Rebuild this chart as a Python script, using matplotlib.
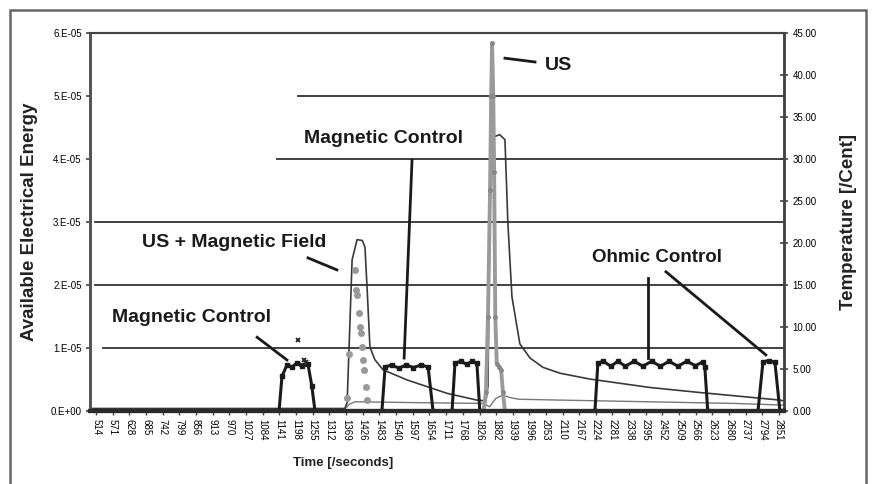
import numpy as np
import matplotlib
matplotlib.use("Agg")
import matplotlib.pyplot as plt
from matplotlib.patches import Rectangle

NARROW = ['Liberation Sans Narrow', 'Liberation Sans', 'DejaVu Sans']
WIDE = ['Liberation Sans', 'DejaVu Sans']

# time axis category labels (seconds)
time_labels = [514, 571, 628, 685, 742, 799, 856, 913, 970, 1027, 1084, 1141,
               1198, 1255, 1312, 1369, 1426, 1483, 1540, 1597, 1654, 1711, 1768,
               1826, 1882, 1939, 1996, 2053, 2110, 2167, 2224, 2281, 2338, 2395,
               2452, 2509, 2566, 2623, 2680, 2737, 2794, 2851]

# available electrical energy (x1E-05), control pulses
energy_t = [493, 1140, 1150, 1167, 1185, 1200, 1220, 1239, 1252, 1263,
            1492, 1503, 1525, 1550, 1575, 1600, 1625, 1650, 1667,
            1732, 1742, 1762, 1782, 1800, 1817, 1827,
            2221, 2231, 2250, 2275, 2300, 2325, 2355, 2385, 2415, 2445, 2475,
            2505, 2535, 2565, 2590, 2597, 2607,
            2779, 2796, 2815, 2837, 2854, 2868]
energy_v = [0, 0, 0.55, 0.73, 0.70, 0.76, 0.71, 0.74, 0.40, 0,
            0, 0.70, 0.73, 0.68, 0.73, 0.69, 0.73, 0.70, 0,
            0, 0.76, 0.79, 0.74, 0.79, 0.76, 0,
            0, 0.76, 0.79, 0.71, 0.79, 0.71, 0.79, 0.71, 0.79, 0.71, 0.79,
            0.71, 0.79, 0.72, 0.78, 0.70, 0,
            0, 0.78, 0.80, 0.77, 0, 0]

# scattered readings during first magnetic control
mag_scatter_t = [1205, 1218, 1224, 1232]
mag_scatter_v = [1.13, 0.73, 0.81, 0.78]

# US + magnetic field readings
usmf_t = [1373, 1378, 1400, 1404, 1408, 1412, 1416, 1420, 1424, 1428, 1432, 1436, 1440]
usmf_v = [0.2, 0.9, 2.24, 1.92, 1.84, 1.56, 1.33, 1.24, 1.02, 0.81, 0.65, 0.38, 0.17]

# US spike
us_t = [493, 1840, 1848, 1855, 1862, 1866, 1869, 1873, 1876, 1880, 1885, 1893, 1900, 1906, 1913, 2868]
us_v = [0, 0, 0.3, 1.5, 3.5, 5.0, 5.84, 5.0, 3.8, 1.5, 0.75, 0.70, 0.65, 0.3, 0, 0]

# temperature (/Cent)
temp_t = [493, 1365, 1373, 1390, 1407, 1425, 1434, 1441, 1451, 1468, 1496, 1578,
          1715, 1817, 1848, 1855, 1863, 1872, 1895, 1913, 1923, 1937, 1964, 1999,
          2043, 2101, 2204, 2409, 2580, 2854, 2868]
temp_v = [0.3, 0.3, 1.0, 18.0, 20.4, 20.3, 19.5, 14.8, 7.6, 6.1, 4.9, 3.7,
          2.1, 1.3, 1.2, 3.0, 28.0, 32.6, 32.9, 32.3, 22.4, 13.6, 8.0, 6.3,
          5.2, 4.5, 3.8, 2.8, 2.2, 1.3, 1.2]

# second temperature reading
temp2_t = [493, 1365, 1380, 1400, 1600, 1840, 1860, 1882, 1905, 1930, 1960, 2100, 2400, 2700, 2868]
temp2_v = [0.2, 0.2, 0.8, 1.1, 1.0, 0.9, 0.5, 1.5, 1.9, 1.6, 1.4, 1.3, 1.1, 0.9, 0.7]

left_ticks = [0, 1e-5, 2e-5, 3e-5, 4e-5, 5e-5, 6e-5]
left_labels = ['0.E+00', '1.E-05', '2.E-05', '3.E-05', '4.E-05', '5.E-05', '6.E-05']
right_ticks = [0, 5, 10, 15, 20, 25, 30, 35, 40, 45]
right_labels = ['0.00', '5.00', '10.00', '15.00', '20.00', '25.00', '30.00', '35.00', '40.00', '45.00']

E = 1e-5

fig = plt.figure(figsize=(8.72, 4.84), dpi=100)
ax1 = fig.add_axes([90/872, 1-411/484, (784-90)/872, (411-33)/484])
ax2 = ax1.twinx()
ax1.set_zorder(ax2.get_zorder() + 1)
ax1.patch.set_visible(False)

# gridlines (some start further right, as in the original)
grid_start = [0.019, 0.007, 0.007, 0.27, 0.30]
for yv, xs in zip(left_ticks[1:6], grid_start):
    ax1.axhline(yv, xmin=xs, xmax=1, color='#333333', lw=1.3, zorder=0)

ax2.plot(temp2_t, temp2_v, color='#777777', lw=1.0)
ax2.plot(temp_t, temp_v, color='#3a3a3a', lw=1.2)

ax1.plot(us_t, np.array(us_v)*E, color='#9a9a9a', lw=2.8, marker='o', ms=2.5, mfc='#888888', mec='#888888')
ax1.plot(usmf_t, np.array(usmf_v)*E, ls='none', marker='o', ms=4, color='#999999')
ax1.plot(mag_scatter_t, np.array(mag_scatter_v)*E, ls='none', marker='x', ms=3.5, color='#222222', mew=1.3)
ax1.plot(energy_t, np.array(energy_v)*E, color='#1a1a1a', lw=2.2, marker='s', ms=2.2)

ax1.set_xlim(493, 2868)
ax1.set_ylim(0, 6e-5)
ax2.set_ylim(0, 45)

ax1.set_xticks(time_labels)
ax1.set_xticklabels([str(t) for t in time_labels], rotation=270, family=NARROW, fontsize=7)
ax1.set_yticks(left_ticks)
ax1.set_yticklabels(left_labels, family=NARROW, fontsize=7)
ax2.set_yticks(right_ticks)
ax2.set_yticklabels(right_labels, family=NARROW, fontsize=7)

ax1.tick_params(axis='x', direction='out', length=3, width=1, pad=3, color='#444444')
ax1.tick_params(axis='y', direction='out', length=3, width=1.2, pad=3, color='#444444')
ax2.tick_params(axis='y', direction='inout', length=6, width=1.2, pad=3, color='#444444')

for ax in (ax1, ax2):
    ax.spines['left'].set_linewidth(2)
    ax.spines['left'].set_color('#555555')
    ax.spines['right'].set_linewidth(1.8)
    ax.spines['right'].set_color('#444444')
    ax.spines['top'].set_linewidth(1.5)
    ax.spines['top'].set_color('#444444')
    ax.spines['bottom'].set_linewidth(3)
    ax.spines['bottom'].set_color('#2a2a2a')

# annotations
txt = dict(family=NARROW, fontweight='bold', fontsize=14, color='#1a1a1a', ha='center', va='center')
ln = dict(color='#1a1a1a', lw=2)

ax1.text(2050, 5.49*E, 'US', **dict(txt, ha='left'))
ax1.plot([1913, 2016], [5.60*E, 5.54*E], **ln)

ax1.text(1499, 4.33*E, 'Magnetic Control', **txt)
ax1.plot([1595, 1568], [3.98*E, 0.84*E], **ln)

ax1.text(986, 2.67*E, 'US + Magnetic Field', **txt)
ax1.plot([1239, 1338], [2.43*E, 2.24*E], **ln)

ax1.text(842, 1.48*E, 'Magnetic Control', **txt)
ax1.plot([1065, 1167], [1.17*E, 0.81*E], **ln)

ax1.text(2433, 2.44*E, 'Ohmic Control', **dict(txt, fontsize=13.5))
ax1.plot([2402, 2402], [2.11*E, 0.84*E], **ln)
ax1.plot([2464, 2806], [2.21*E, 0.89*E], **ln)

# axis titles
fig.text(30/872, 1-222/484, 'Available Electrical Energy', rotation=90, ha='center', va='center',
         family=WIDE, fontweight='bold', fontsize=13.5, color='#222222')
fig.text(848/872, 1-222/484, 'Temperature [/Cent]', rotation=90, ha='center', va='center',
         family=WIDE, fontweight='bold', fontsize=13.5, color='#222222')
fig.text(343/872, 1-463/484, 'Time [/seconds]', ha='center', va='center',
         family=NARROW, fontweight='bold', fontsize=9.5, color='#222222')

# outer frame
fig.patches.append(Rectangle((10/872, -0.1), (866-10)/872, 1.1-10/484, transform=fig.transFigure,
                             fill=False, edgecolor='#666666', lw=1.8))

fig.savefig('out.png', dpi=100)
